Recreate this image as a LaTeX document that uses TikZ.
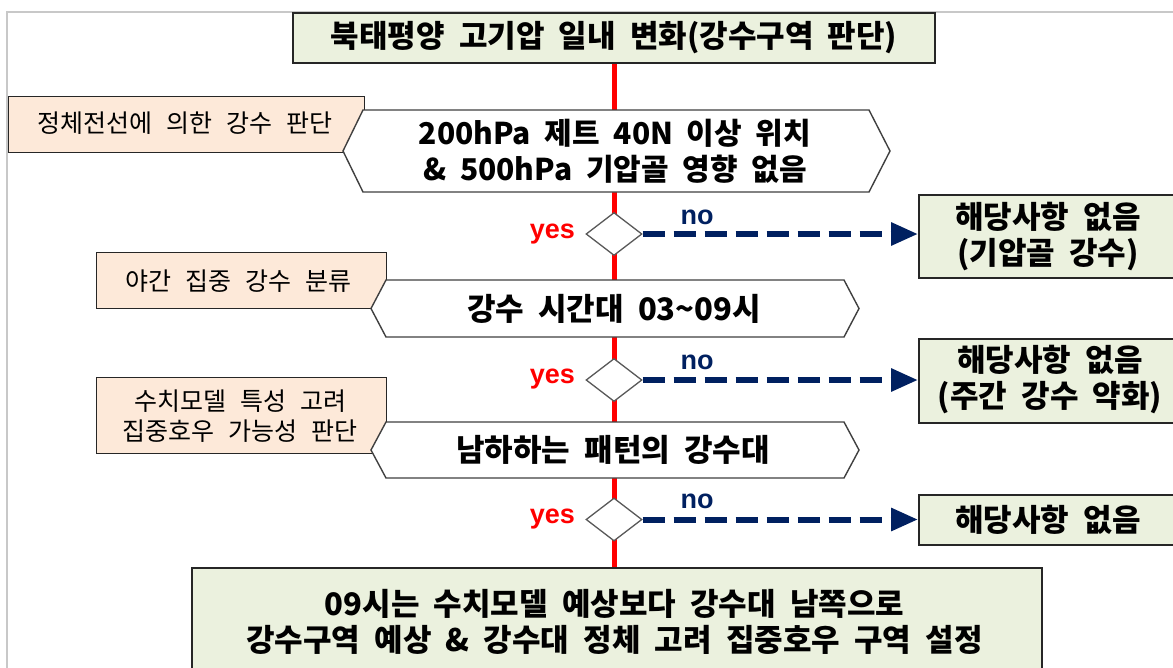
\documentclass[tikz,border=0pt]{standalone}
\usepackage{fontspec}
\setmainfont{Noto Sans CJK KR}[WordSpace=2.0]
\newfontfamily\pinkf{Noto Sans CJK KR}[WordSpace=2.5]
\newfontfamily\enf{Liberation Sans}
\usetikzlibrary{shapes.geometric,arrows.meta}
\definecolor{boxgreen}{HTML}{EBF1DE}
\definecolor{boxpink}{HTML}{FDE9D9}
\definecolor{boxline}{HTML}{262626}
\definecolor{hexgray}{HTML}{404040}
\definecolor{diagray}{HTML}{595959}
\definecolor{navy}{HTML}{002060}
\definecolor{framegray}{HTML}{C8C8C8}
\begin{document}
\begin{tikzpicture}[x=1pt,y=-1pt,
  greenbox/.style={draw=boxline, line width=1.6pt, fill=boxgreen, inner sep=0pt},
  pinkbox/.style={draw=boxline, line width=1.4pt, fill=boxpink, inner sep=0pt},
  hexline/.style={draw=hexgray, line width=1.4pt, fill=white, line join=miter},
  decision/.style={diamond, draw=diagray, line width=1.3pt, fill=white, minimum width=56pt, minimum height=43pt, inner sep=0pt},
  spine/.style={draw=red, line width=5pt},
  noarrow/.style={draw=navy, line width=6pt, dash pattern=on 22pt off 9pt, -{Triangle[length=27pt,width=22pt]}},
  maintext/.style={font=\fontsize{31}{36}\selectfont\bfseries, align=center, inner sep=0pt},
  hextext/.style={font=\fontsize{31}{36}\selectfont\bfseries, align=center, inner sep=0pt},
  pinktext/.style={font=\pinkf\fontsize{25}{30}\selectfont, align=center, inner sep=0pt},
  yestext/.style={font=\enf\fontsize{27}{30}\selectfont\bfseries, text=red, inner sep=0pt},
  notext/.style={font=\enf\fontsize{27}{30}\selectfont\bfseries, text=navy, inner sep=0pt}
]
\useasboundingbox (0,0) rectangle (1173,667);
\clip (0,0) rectangle (1173,667);
\fill[white] (0,0) rectangle (1173,667);
% frame
\draw[framegray, line width=2pt] (7,700) -- (7,12) -- (1200,12);
% top and bottom boxes
\node[greenbox, minimum width=642pt, minimum height=50pt, font=\fontsize{31}{36}\selectfont\bfseries] (top) at (614,38) {북태평양 고기압 일내 변화(강수구역 판단)};
\node[greenbox, anchor=north, minimum width=850pt, minimum height=140pt] (bot) at (617,567) {};
% spine
\draw[spine] (top.south) -- (top.south |- bot.north);
% pink labels
\node[pinkbox, anchor=north west, minimum width=356pt, minimum height=56pt] (p1) at (8,96) {};
\node[pinkbox, anchor=north west, minimum width=290pt, minimum height=56pt] (p2) at (96,252) {};
\node[pinkbox, anchor=north west, minimum width=290pt, minimum height=76pt] (p3) at (96,377) {};
% hexagons
\path[hexline] (343,151) -- (363,110) -- (869,110) -- (890,151) -- (869,192) -- (363,192) -- cycle;
\path[hexline] (371,308.5) -- (386,280) -- (844,280) -- (859,308.5) -- (844,337) -- (386,337) -- cycle;
\path[hexline] (371,450) -- (386,422) -- (844,422) -- (859,450) -- (844,478) -- (386,478) -- cycle;
% decisions
\node[decision] (d1) at (614,234) {};
\node[decision] (d2) at (614,380) {};
\node[decision] (d3) at (614,519.5) {};
% result boxes
\node[greenbox, anchor=north west, minimum width=272pt, minimum height=83pt] (r1) at (918,194) {};
\node[greenbox, anchor=north west, minimum width=272pt, minimum height=84pt] (r2) at (918,338) {};
\node[greenbox, anchor=north west, minimum width=272pt, minimum height=50pt] (r3) at (918,494) {};
% no arrows
\draw[noarrow] (d1.east) -- (d1.east -| r1.west);
\draw[noarrow] (d2.east) -- (d2.east -| r2.west);
\draw[noarrow] (d3.east) -- (d3.east -| r3.west);
% texts
\node[pinktext] (p1t) at (185,123) {정체전선에 의한 강수 판단};
\node[pinktext] (p2t) at (238,281) {야간 집중 강수 분류};
\node[pinktext] (p3t) at (240,416) {수치모델 특성 고려\\집중호우 가능성 판단};
\node[hextext, font=\fontsize{30}{36}\selectfont\bfseries] (h1) at (615,151) {200hPa 제트 40N 이상 위치\\\& 500hPa 기압골 영향 없음};
\node[hextext] (h2) at (614,309) {강수 시간대 03\textasciitilde09시};
\node[hextext] (h3) at (613,450) {남하하는 패턴의 강수대};
\node[yestext, anchor=east] (y1) at (575,234) {yes};
\node[yestext, anchor=east] (y2) at (575,379) {yes};
\node[yestext, anchor=east] (y3) at (575,519) {yes};
\node[notext] (n1) at (697,217) {no};
\node[notext] (n2) at (697,362) {no};
\node[notext] (n3) at (697,501) {no};
\node[maintext] (r1t) at (1048,237) {해당사항 없음\\(기압골 강수)};
\node[maintext] (r2t) at (1050,380) {해당사항 없음\\(주간 강수 약화)};
\node[maintext] (r3t) at (1048,520) {해당사항 없음};
\node[maintext] (bt) at (614.5,622) {09시는 수치모델 예상보다 강수대 남쪽으로\\강수구역 예상 \& 강수대 정체 고려 집중호우 구역 설정};
\end{tikzpicture}
\end{document}
